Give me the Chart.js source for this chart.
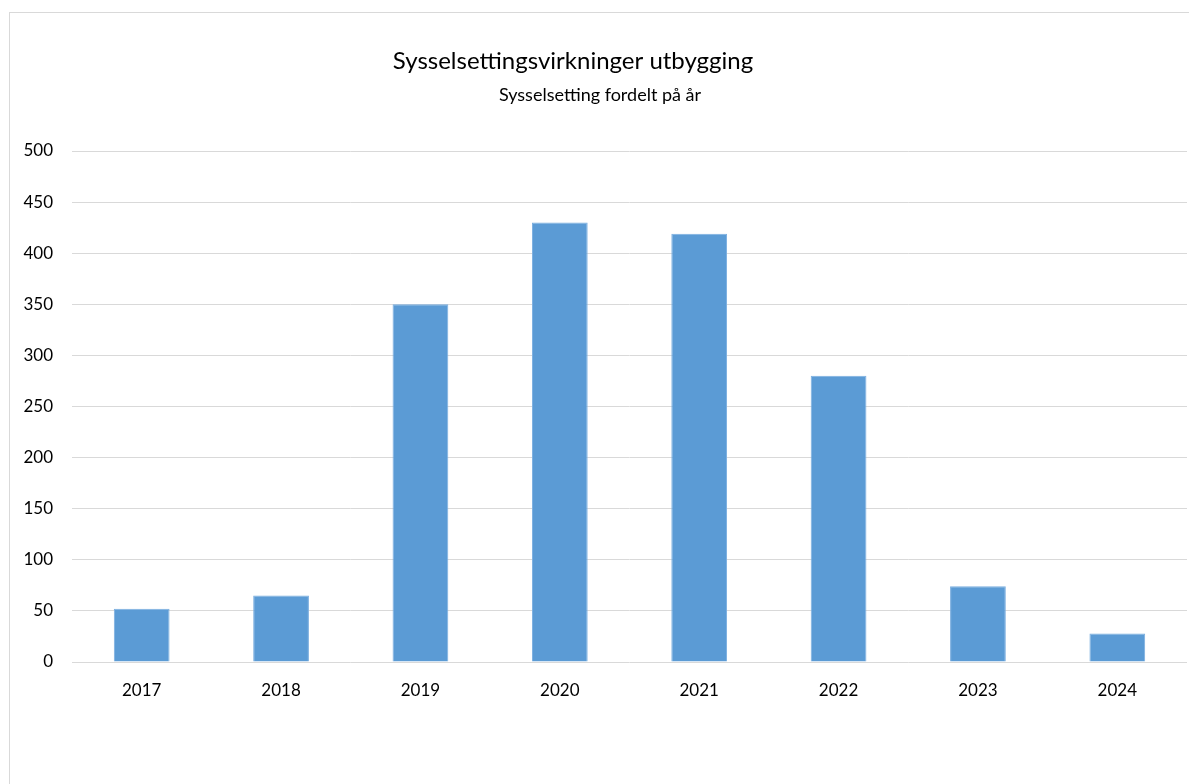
<!DOCTYPE html>
<html>
<head>
<meta charset="utf-8">
<script src="https://cdn.jsdelivr.net/npm/chart.js@4"></script>
<style>
    body { margin: 0; background: #fff; }
    #wrap { position: relative; width: 1189px; height: 784px; }
</style>
</head>
<body>
<div id="wrap"><canvas id="sysChart"></canvas></div>
<script>
const years = ['2017', '2018', '2019', '2020', '2021', '2022', '2023', '2024'];
const employment = [52, 65, 350, 430, 419, 280, 74, 28];
const yTicks = [0, 50, 100, 150, 200, 250, 300, 350, 400, 450, 500];

const titleText = 'Sysselsettingsvirkninger utbygging';
const subtitleText = 'Sysselsetting fordelt på år';

const FONT = 'Lato, "Open Sans", sans-serif';

// frame + titles drawn on the canvas
const framePlugin = {
    id: 'frame',
    beforeDraw(chart) {
        const c = chart.ctx;
        c.save();
        c.strokeStyle = '#d9d9d9';
        c.lineWidth = 1;
        c.strokeRect(9.5, 12.5, 1200, 800);
        c.restore();
    },
    afterDraw(chart) {
        const c = chart.ctx;
        c.save();
        c.fillStyle = '#000';
        c.textAlign = 'center';
        c.textBaseline = 'middle';
        c.font = '24px ' + FONT;
        c.fillText(titleText, 573, 61);
        c.font = '18px ' + FONT;
        c.fillText(subtitleText, 600, 95);
        c.restore();
    }
};

const ctx = document.getElementById('sysChart').getContext('2d');
new Chart(ctx, {
    type: 'bar',
    data: {
        labels: years,
        datasets: [{
            label: 'Sysselsetting',
            data: employment,
            backgroundColor: '#5b9bd5',
            borderColor: '#7aaee0',
            borderWidth: 1,
            categoryPercentage: 1,
            barPercentage: 0.4
        }]
    },
    options: {
        responsive: true,
        maintainAspectRatio: false,
        animation: false,
        layout: { padding: { top: 151, right: 2, bottom: 0, left: 0 } },
        plugins: {
            legend: { display: false },
            tooltip: { enabled: false }
        },
        scales: {
            x: {
                grid: { display: false },
                border: { display: false },
                ticks: { color: '#000', font: { family: FONT, size: 17 }, padding: 10 },
                afterFit(scale) { scale.height = 122; }
            },
            y: {
                min: 0,
                max: 500,
                afterBuildTicks(scale) { scale.ticks = yTicks.map(v => ({ value: v })); },
                grid: { color: '#d9d9d9', drawTicks: false },
                border: { display: false },
                ticks: { color: '#000', font: { family: FONT, size: 17 }, padding: 19 },
                afterFit(scale) { scale.width = 72; }
            }
        }
    },
    plugins: [framePlugin]
});
</script>
</body>
</html>
